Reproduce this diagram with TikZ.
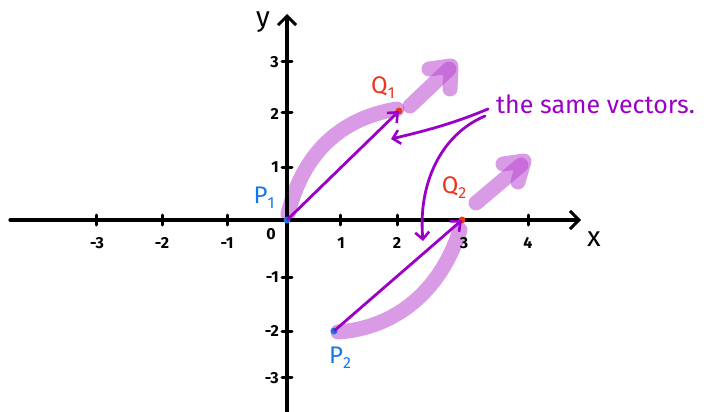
\documentclass[tikz,border=0pt]{standalone}
\usepackage{fontspec}
\setmainfont{Fira Sans}
\usetikzlibrary{arrows.meta}
\definecolor{vecpurple}{RGB}{154,0,200}
\definecolor{hlpurple}{RGB}{186,73,210}
\definecolor{qred}{RGB}{236,52,30}
\definecolor{pblue}{RGB}{20,120,235}
\newcommand{\ptsub}[2]{#1\raisebox{-5pt}{\fontsize{16}{16}\selectfont #2}}
\tikzset{
  axis/.style={line width=3.2pt, line cap=round, -{Straight Barb[length=9pt,width=18pt,line width=3pt]}},
  tick/.style={line width=3pt, line cap=round},
  ticklbl/.style={font=\fontsize{16}{16}\selectfont\bfseries, inner sep=0pt},
  vec/.style={line width=2.8pt, vecpurple, -{Straight Barb[length=8pt,width=14pt,line width=2.6pt]}},
  hl/.style={line width=15pt, hlpurple, draw opacity=0.55, line cap=round},
  hlarrow/.style={line width=15pt, hlpurple, draw opacity=0.55, line cap=round, line join=round},
  note/.style={line width=2.8pt, vecpurple, line cap=round, -{Straight Barb[length=7pt,width=14pt,line width=2.6pt]}},
  ptlbl/.style={font=\fontsize{24}{24}\selectfont, inner sep=0pt},
  axlbl/.style={font=\fontsize{28}{28}\selectfont, inner sep=0pt},
  dot/.style={circle, inner sep=0pt, minimum size=7pt},
}
\begin{document}
\begin{tikzpicture}[x=1pt,y=-1pt]
\useasboundingbox (0,0) rectangle (704,412);
% highlight strokes
\draw[hl] (288,214) .. controls (300,165) and (330,120) .. (397,109);
\draw[hlarrow] (410,106) -- (449,69);
\draw[hlarrow] (429,69) -- (451,66) -- (450,89);
\draw[hl] (338,332) .. controls (395,328) and (440,292) .. (460,230);
\draw[hlarrow] (476,203) -- (521,165);
\draw[hlarrow] (503,164) -- (524,161) -- (518,182);
% axes
\coordinate (xs) at (10,220);
\coordinate (xe) at (581,220);
\coordinate (ys) at (287,412);
\coordinate (ye) at (287,14);
\draw[axis] (xs) -- (xe);
\draw[axis] (ys) -- (ye);
% x ticks
\foreach \x in {96,162,227,340,397,528}{
  \draw[tick] (\x,215) -- (\x,225);
}
\foreach \x/\l/\n in {97/-3/xm3,162/-2/xm2,227/-1/xm1,341/1/x1,397/2/x2,464/3/x3,528/4/x4}{
  \node[ticklbl] (\n) at (\x,243) {\l};
}
\node[ticklbl] (x0) at (271,234) {0};
% y ticks
\foreach \y in {62,112,167,277,331,377}{
  \draw[tick] (282,\y) -- (292,\y);
}
\foreach \y/\l/\n in {62/3/y3,114/2/y2,167/1/y1,277/-1/ym1,331/-2/ym2,378/-3/ym3}{
  \node[ticklbl, anchor=east] (\n) at (279,\y) {\l};
}
\node[axlbl] (xl) at (594,239) {x};
\node[axlbl] (yl) at (263,22) {y};
% points
\node[dot, fill=pblue] (P1) at (287,220) {};
\node[dot, fill=qred] (Q1) at (399,111) {};
\node[dot, fill=pblue] (P2) at (334,331) {};
\node[dot, fill=qred] (Q2) at (462,220) {};
% vectors
\draw[vec] (P1.center) -- (Q1.center);
\draw[vec] (P2.center) -- (Q2.center);
% labels
\node[ptlbl, text=qred] (Q1l) at (383,88) {\ptsub{Q}{1}};
\node[ptlbl, text=pblue] (P1l) at (264,198) {\ptsub{P}{1}};
\node[ptlbl, text=qred] (Q2l) at (454,188) {\ptsub{Q}{2}};
\node[ptlbl, text=pblue] (P2l) at (340,358) {\ptsub{P}{2}};
% note
\node[font=\fontsize{25}{25}\selectfont, text=vecpurple, anchor=west, inner sep=0pt] (note) at (496,104) {the same vectors.};
\coordinate (n1) at (488,109);
\coordinate (n2) at (485,116);
\coordinate (t1) at (391,139);
\coordinate (t2) at (423,241);
\draw[note] (n1) .. controls (450,125) and (420,132) .. (t1);
\draw[note] (n2) .. controls (440,135) and (418,185) .. (t2);
\end{tikzpicture}
\end{document}
